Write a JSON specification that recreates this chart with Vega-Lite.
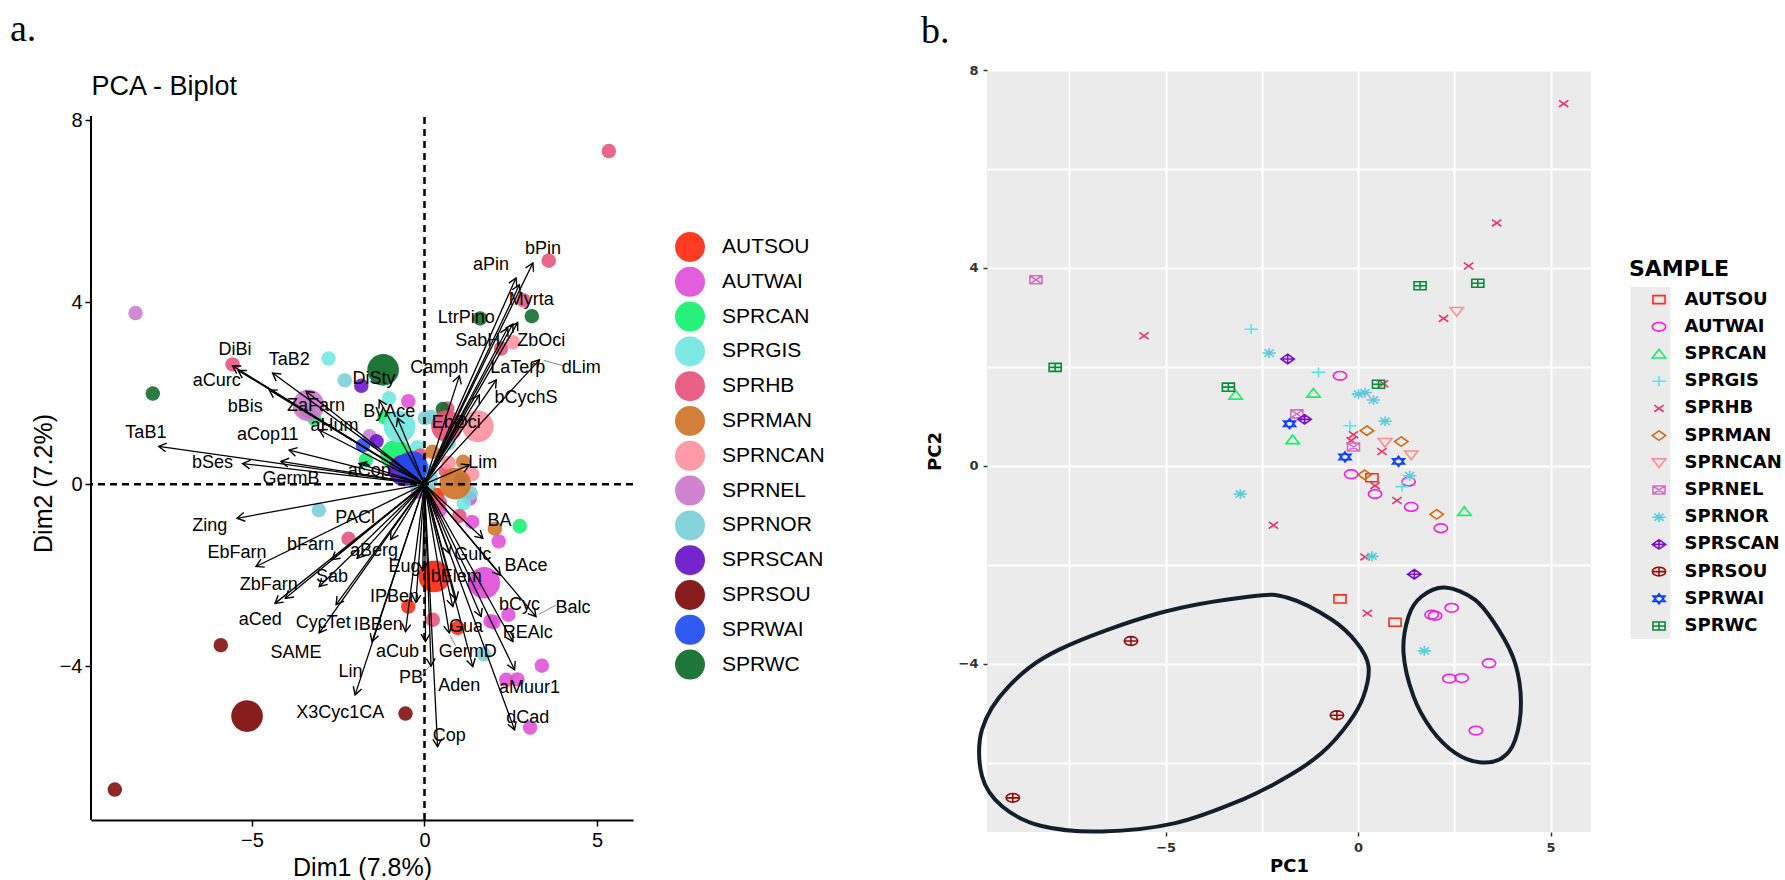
{
  "$schema": "https://vega.github.io/schema/vega-lite/v6.json",
  "background": "white",
  "padding": {"left": 10, "top": 11, "right": 5, "bottom": 5},
  "config": {"view": {"stroke": null}, "font": "Liberation Sans"},
  "datasets": {
    "ind": [
      {"g": "AUTSOU", "x": 0.36, "y": -0.24}, {"g": "AUTSOU", "x": -0.47, "y": -2.69}, {"g": "AUTSOU", "x": 0.96, "y": -3.16},
      {"g": "AUTWAI", "x": -0.47, "y": 1.82}, {"g": "AUTWAI", "x": -0.18, "y": -0.17}, {"g": "AUTWAI", "x": 1.31, "y": -0.32},
      {"g": "AUTWAI", "x": 0.44, "y": -0.57}, {"g": "AUTWAI", "x": 1.38, "y": -0.83}, {"g": "AUTWAI", "x": 2.15, "y": -1.26},
      {"g": "AUTWAI", "x": 1.91, "y": -3.01}, {"g": "AUTWAI", "x": 2.0, "y": -3.03}, {"g": "AUTWAI", "x": 2.43, "y": -2.87},
      {"g": "AUTWAI", "x": 3.4, "y": -3.99}, {"g": "AUTWAI", "x": 2.37, "y": -4.3}, {"g": "AUTWAI", "x": 2.69, "y": -4.29},
      {"g": "AUTWAI", "x": 3.06, "y": -5.35},
      {"g": "SPRCAN", "x": -3.18, "y": 1.43}, {"g": "SPRCAN", "x": -1.16, "y": 1.47}, {"g": "SPRCAN", "x": -1.7, "y": 0.53}, {"g": "SPRCAN", "x": 2.76, "y": -0.92},
      {"g": "SPRGIS", "x": -2.78, "y": 2.76}, {"g": "SPRGIS", "x": -1.03, "y": 1.89}, {"g": "SPRGIS", "x": -0.21, "y": 0.81}, {"g": "SPRGIS", "x": 1.14, "y": -0.42},
      {"g": "SPRHB", "x": 5.34, "y": 7.32}, {"g": "SPRHB", "x": 3.6, "y": 4.91}, {"g": "SPRHB", "x": 2.87, "y": 4.04},
      {"g": "SPRHB", "x": 2.22, "y": 2.98}, {"g": "SPRHB", "x": -5.56, "y": 2.63}, {"g": "SPRHB", "x": 0.66, "y": 1.66},
      {"g": "SPRHB", "x": -0.12, "y": 0.63}, {"g": "SPRHB", "x": -0.18, "y": 0.51}, {"g": "SPRHB", "x": 0.62, "y": 0.29},
      {"g": "SPRHB", "x": 0.44, "y": -0.4}, {"g": "SPRHB", "x": 1.01, "y": -0.7}, {"g": "SPRHB", "x": -2.2, "y": -1.2},
      {"g": "SPRHB", "x": 0.18, "y": -1.84}, {"g": "SPRHB", "x": 0.24, "y": -2.98},
      {"g": "SPRMAN", "x": 0.23, "y": 0.71}, {"g": "SPRMAN", "x": 1.12, "y": 0.49}, {"g": "SPRMAN", "x": 0.17, "y": -0.18}, {"g": "SPRMAN", "x": 2.04, "y": -0.98},
      {"g": "SPRNCAN", "x": 2.56, "y": 3.12}, {"g": "SPRNCAN", "x": 0.7, "y": 0.47}, {"g": "SPRNCAN", "x": 1.38, "y": 0.22},
      {"g": "SPRNEL", "x": -8.37, "y": 3.76}, {"g": "SPRNEL", "x": -1.59, "y": 1.05}, {"g": "SPRNEL", "x": -0.12, "y": 0.38},
      {"g": "SPRNOR", "x": -2.31, "y": 2.28}, {"g": "SPRNOR", "x": 0.01, "y": 1.45}, {"g": "SPRNOR", "x": 0.18, "y": 1.48},
      {"g": "SPRNOR", "x": 0.4, "y": 1.33}, {"g": "SPRNOR", "x": 0.7, "y": 0.9}, {"g": "SPRNOR", "x": 1.34, "y": -0.2},
      {"g": "SPRNOR", "x": -3.06, "y": -0.57}, {"g": "SPRNOR", "x": 0.36, "y": -1.83}, {"g": "SPRNOR", "x": 1.72, "y": -3.74},
      {"g": "SPRSCAN", "x": -1.83, "y": 2.16}, {"g": "SPRSCAN", "x": -1.39, "y": 0.94}, {"g": "SPRSCAN", "x": 1.46, "y": -2.19},
      {"g": "SPRSOU", "x": -5.9, "y": -3.54}, {"g": "SPRSOU", "x": -8.97, "y": -6.71}, {"g": "SPRSOU", "x": -0.55, "y": -5.04},
      {"g": "SPRWAI", "x": -1.78, "y": 0.85}, {"g": "SPRWAI", "x": -0.34, "y": 0.18}, {"g": "SPRWAI", "x": 1.05, "y": 0.09},
      {"g": "SPRWC", "x": -7.87, "y": 1.99}, {"g": "SPRWC", "x": -3.37, "y": 1.59}, {"g": "SPRWC", "x": 0.53, "y": 1.65},
      {"g": "SPRWC", "x": 1.61, "y": 3.64}, {"g": "SPRWC", "x": 3.11, "y": 3.69}
    ],
    "vars": [
      {"v": "bPin", "x": 3.14, "y": 4.86, "lx": 3.43, "ly": 5.17},
      {"v": "aPin", "x": 2.65, "y": 4.53, "lx": 1.93, "ly": 4.82},
      {"v": "Myrta", "x": 2.75, "y": 4.38, "lx": 3.09, "ly": 4.05},
      {"v": "LtrPino", "x": 2.41, "y": 3.43, "lx": 1.21, "ly": 3.65},
      {"v": "SabH", "x": 2.56, "y": 3.52, "lx": 1.54, "ly": 3.14},
      {"v": "ZbOci", "x": 2.7, "y": 3.55, "lx": 3.38, "ly": 3.14},
      {"v": "dLim", "x": 3.33, "y": 2.73, "lx": 4.54, "ly": 2.55},
      {"v": "LaTerp", "x": 2.08, "y": 2.29, "lx": 2.7, "ly": 2.55},
      {"v": "Camph", "x": 1.01, "y": 2.38, "lx": 0.43, "ly": 2.55},
      {"v": "bCychS", "x": 1.59, "y": 1.96, "lx": 2.94, "ly": 1.89},
      {"v": "EbOci", "x": 1.11, "y": 1.49, "lx": 0.92, "ly": 1.34},
      {"v": "Lim", "x": 1.3, "y": 0.42, "lx": 1.69, "ly": 0.46},
      {"v": "DiBi", "x": -5.56, "y": 2.6, "lx": -5.49, "ly": 2.95},
      {"v": "aCurc", "x": -5.4, "y": 2.5, "lx": -6.02, "ly": 2.26},
      {"v": "TaB2", "x": -4.4, "y": 2.44, "lx": -3.92, "ly": 2.73},
      {"v": "bBis", "x": -4.5, "y": 2.07, "lx": -5.19, "ly": 1.69},
      {"v": "ZaFarn", "x": -3.43, "y": 2.04, "lx": -3.14, "ly": 1.72},
      {"v": "aHum", "x": -3.05, "y": 1.19, "lx": -2.61, "ly": 1.27},
      {"v": "TaB1", "x": -7.7, "y": 0.83, "lx": -8.07, "ly": 1.12},
      {"v": "aCop11", "x": -3.92, "y": 0.75, "lx": -4.54, "ly": 1.08},
      {"v": "bSes", "x": -5.27, "y": 0.45, "lx": -6.14, "ly": 0.46},
      {"v": "GermB", "x": -4.16, "y": 0.5, "lx": -3.87, "ly": 0.11},
      {"v": "aCop", "x": -1.9, "y": 0.45, "lx": -1.6, "ly": 0.28},
      {"v": "DiSty", "x": -1.31, "y": 1.85, "lx": -1.46, "ly": 2.31},
      {"v": "ByAce", "x": -0.78, "y": 1.45, "lx": -1.02, "ly": 1.58},
      {"v": "BA", "x": 1.69, "y": -1.19, "lx": 2.17, "ly": -0.82},
      {"v": "BAce", "x": 2.2, "y": -2.0, "lx": 2.94, "ly": -1.79},
      {"v": "Balc", "x": 3.23, "y": -2.91, "lx": 4.3, "ly": -2.73},
      {"v": "bCyc", "x": 1.64, "y": -2.91, "lx": 2.75, "ly": -2.65},
      {"v": "REAlc", "x": 2.56, "y": -3.46, "lx": 2.99, "ly": -3.27},
      {"v": "aMuur1", "x": 2.61, "y": -4.08, "lx": 3.04, "ly": -4.48},
      {"v": "dCad", "x": 2.61, "y": -5.4, "lx": 2.99, "ly": -5.14},
      {"v": "Cop", "x": 0.38, "y": -5.77, "lx": 0.72, "ly": -5.53},
      {"v": "Aden", "x": 1.4, "y": -4.01, "lx": 1.01, "ly": -4.43},
      {"v": "GermD", "x": 0.72, "y": -3.27, "lx": 1.25, "ly": -3.68},
      {"v": "Gua", "x": 0.92, "y": -2.54, "lx": 1.2, "ly": -3.13},
      {"v": "PB", "x": 0.19, "y": -4.0, "lx": -0.39, "ly": -4.26},
      {"v": "aCub", "x": 0.03, "y": -3.46, "lx": -0.78, "ly": -3.68},
      {"v": "IPBen", "x": -0.25, "y": -2.6, "lx": -0.87, "ly": -2.47},
      {"v": "IBBen", "x": -0.55, "y": -3.24, "lx": -1.34, "ly": -3.09},
      {"v": "Eug", "x": -0.05, "y": -1.9, "lx": -0.58, "ly": -1.81},
      {"v": "Gulc", "x": 0.72, "y": -1.52, "lx": 1.4, "ly": -1.55},
      {"v": "bElem", "x": 0.82, "y": -2.69, "lx": 0.92, "ly": -2.03},
      {"v": "Lin", "x": -1.52, "y": -3.46, "lx": -2.14, "ly": -4.12},
      {"v": "X3Cyc1CA", "x": -2.01, "y": -4.63, "lx": -2.44, "ly": -5.03},
      {"v": "SAME", "x": -3.05, "y": -3.27, "lx": -3.72, "ly": -3.7},
      {"v": "CycTet", "x": -2.56, "y": -2.65, "lx": -2.93, "ly": -3.05},
      {"v": "aCed", "x": -4.33, "y": -2.62, "lx": -4.76, "ly": -2.98},
      {"v": "ZbFarn", "x": -4.03, "y": -2.51, "lx": -4.51, "ly": -2.21},
      {"v": "Sab", "x": -3.05, "y": -2.25, "lx": -2.68, "ly": -2.04},
      {"v": "EbFarn", "x": -4.88, "y": -1.81, "lx": -5.43, "ly": -1.52},
      {"v": "bFarn", "x": -2.68, "y": -1.66, "lx": -3.3, "ly": -1.33},
      {"v": "aBerg", "x": -1.95, "y": -1.63, "lx": -1.46, "ly": -1.48},
      {"v": "PACl", "x": -0.98, "y": -1.22, "lx": -2.01, "ly": -0.75},
      {"v": "Zing", "x": -5.43, "y": -0.75, "lx": -6.22, "ly": -0.93}
    ],
    "leaders": [
      {"v": "dLim", "x": 3.45, "y": 2.72, "x2": 4.02, "y2": 2.6},
      {"v": "Balc", "x": 3.32, "y": -2.86, "x2": 3.8, "y2": -2.66},
      {"v": "PB", "x": 0.17, "y": -3.98, "x2": -0.1, "y2": -4.22},
      {"v": "GermD", "x": 0.74, "y": -3.32, "x2": 0.9, "y2": -3.55}
    ],
    "ell": [
      {"e": 1, "i": 0, "x": -2.8, "y": -2.64}, {"e": 1, "i": 1, "x": -1.81, "y": -2.67}, {"e": 1, "i": 2, "x": -0.68, "y": -3.11},
      {"e": 1, "i": 3, "x": -0.03, "y": -3.58}, {"e": 1, "i": 4, "x": 0.27, "y": -4.05}, {"e": 1, "i": 5, "x": 0.14, "y": -4.66},
      {"e": 1, "i": 6, "x": -0.25, "y": -5.2}, {"e": 1, "i": 7, "x": -0.94, "y": -5.8}, {"e": 1, "i": 8, "x": -1.81, "y": -6.27},
      {"e": 1, "i": 9, "x": -3.02, "y": -6.75}, {"e": 1, "i": 10, "x": -4.75, "y": -7.22}, {"e": 1, "i": 11, "x": -6.66, "y": -7.39},
      {"e": 1, "i": 12, "x": -8.22, "y": -7.28}, {"e": 1, "i": 13, "x": -9.25, "y": -6.88}, {"e": 1, "i": 14, "x": -9.77, "y": -6.27},
      {"e": 1, "i": 15, "x": -9.77, "y": -5.33}, {"e": 1, "i": 16, "x": -9.08, "y": -4.46}, {"e": 1, "i": 17, "x": -7.78, "y": -3.72},
      {"e": 1, "i": 18, "x": -5.18, "y": -2.98},
      {"e": 2, "i": 0, "x": 2.26, "y": -2.46}, {"e": 2, "i": 1, "x": 3.04, "y": -2.71}, {"e": 2, "i": 2, "x": 3.65, "y": -3.31},
      {"e": 2, "i": 3, "x": 4.08, "y": -3.99}, {"e": 2, "i": 4, "x": 4.23, "y": -4.79}, {"e": 2, "i": 5, "x": 4.08, "y": -5.54},
      {"e": 2, "i": 6, "x": 3.73, "y": -5.91}, {"e": 2, "i": 7, "x": 3.15, "y": -5.99}, {"e": 2, "i": 8, "x": 2.52, "y": -5.8},
      {"e": 2, "i": 9, "x": 1.91, "y": -5.33}, {"e": 2, "i": 10, "x": 1.44, "y": -4.66}, {"e": 2, "i": 11, "x": 1.18, "y": -3.78},
      {"e": 2, "i": 12, "x": 1.31, "y": -3.04}, {"e": 2, "i": 13, "x": 1.65, "y": -2.64}
    ]
  },
  "spacing": 96,
  "resolve": {
    "scale": {"color": "independent", "shape": "independent", "fill": "independent"},
    "legend": {"color": "independent", "shape": "independent", "fill": "independent"}
  },
  "hconcat": [
    {
      "width": 542,
      "height": 750,
      "title": {"text": "a.", "font": "Liberation Serif", "fontSize": 38, "fontWeight": "normal", "color": "black", "anchor": "start", "frame": "group", "dx": -81, "offset": 21},
      "resolve": {"axis": {"x": "independent"}},
      "layer": [
        {
          "data": {"name": "ind"},
          "mark": {"type": "circle", "size": 210, "opacity": 0.88},
          "encoding": {
            "x": {"field": "x", "type": "quantitative",
              "scale": {"domain": [-9.66, 6.04], "nice": false, "zero": false},
              "axis": {"orient": "bottom", "values": [-5, 0, 5], "title": "Dim1 (7.8%)", "titleFontSize": 25, "titleFontWeight": "normal", "titleColor": "black", "titlePadding": 5, "labelFontSize": 20, "labelColor": "black", "labelPadding": 4, "tickSize": 6, "tickColor": "black", "tickWidth": 1.5, "domainColor": "black", "domainWidth": 2, "grid": false, "labelFlush": false}},
            "y": {"field": "y", "type": "quantitative",
              "scale": {"domain": [-7.38, 9.1], "nice": false, "zero": false},
              "axis": {"values": [-4, 0, 4, 8], "title": "Dim2 (7.2%)", "titleY": 413, "titleFontSize": 25, "titleFontWeight": "normal", "titleColor": "black", "titlePadding": 3, "labelFontSize": 20, "labelColor": "black", "labelPadding": 3, "tickSize": 6, "tickColor": "black", "tickWidth": 1.5, "domain": false, "grid": false}},
            "color": {"field": "g", "type": "nominal",
              "scale": {"domain": ["AUTSOU", "AUTWAI", "SPRCAN", "SPRGIS", "SPRHB", "SPRMAN", "SPRNCAN", "SPRNEL", "SPRNOR", "SPRSCAN", "SPRSOU", "SPRWAI", "SPRWC"],
                "range": ["#FF2A10", "#E04FD8", "#12F070", "#72E6E2", "#E6527C", "#CF7428", "#FF91A2", "#CC7ACC", "#7ACFD8", "#6A12C8", "#7E0A0A", "#1E4CF0", "#0C6A28"]},
              "legend": {"orient": "none", "legendX": 583, "legendY": 161, "title": null, "symbolType": "circle", "symbolSize": 900, "symbolOpacity": 1, "labelFontSize": 21, "labelFont": "Liberation Sans", "labelColor": "black", "rowPadding": 3.8, "labelOffset": 16, "padding": 0}}
          }
        },
        {
          "data": {"name": "ind"},
          "mark": {"type": "circle", "size": 1000, "opacity": 0.92},
          "encoding": {
            "x": {"aggregate": "mean", "field": "x", "type": "quantitative", "scale": {"domain": [-9.66, 6.04], "nice": false, "zero": false}, "axis": null},
            "y": {"aggregate": "mean", "field": "y", "type": "quantitative", "scale": {"domain": [-7.38, 9.1], "nice": false, "zero": false}},
            "color": {"field": "g", "type": "nominal"}
          }
        },
        {
          "data": {"values": [{}]},
          "mark": {"type": "rule", "strokeWidth": 2, "color": "black"},
          "encoding": {
            "x": {"datum": -9.66, "type": "quantitative", "scale": {"domain": [-9.66, 6.04], "nice": false, "zero": false}, "axis": null},
            "y": {"datum": -7.38, "type": "quantitative", "scale": {"domain": [-7.38, 9.1], "nice": false, "zero": false}},
            "y2": {"datum": 8.09}
          }
        },
        {
          "data": {"values": [{}]},
          "mark": {"type": "rule", "strokeDash": [7, 5], "strokeWidth": 2.5, "color": "black"},
          "encoding": {
            "x": {"datum": 0, "type": "quantitative", "scale": {"domain": [-9.66, 6.04], "nice": false, "zero": false},
              "axis": {"orient": "top", "title": "PCA - Biplot", "titleFontSize": 27, "titleFontWeight": "normal", "titleColor": "black", "titleAnchor": "start", "titleAlign": "left", "titlePadding": -30, "domain": false, "ticks": false, "labels": false, "grid": false}},
            "y": {"datum": -7.38, "type": "quantitative", "scale": {"domain": [-7.38, 9.1], "nice": false, "zero": false}},
            "y2": {"datum": 8.09}
          }
        },
        {
          "data": {"values": [{}]},
          "mark": {"type": "rule", "strokeDash": [7, 5], "strokeWidth": 2.5, "color": "black"},
          "encoding": {
            "y": {"datum": 0, "type": "quantitative", "scale": {"domain": [-7.38, 9.1], "nice": false, "zero": false}}
          }
        },
        {
          "data": {"name": "vars"},
          "mark": {"type": "rule", "color": "black", "strokeWidth": 1.3},
          "encoding": {
            "x": {"field": "x", "type": "quantitative", "scale": {"domain": [-9.66, 6.04], "nice": false, "zero": false}, "axis": null},
            "y": {"field": "y", "type": "quantitative", "scale": {"domain": [-7.38, 9.1], "nice": false, "zero": false}},
            "x2": {"datum": 0},
            "y2": {"datum": 0}
          }
        },
        {
          "data": {"name": "leaders"},
          "mark": {"type": "rule", "color": "#888888", "strokeWidth": 1},
          "encoding": {
            "x": {"field": "x", "type": "quantitative", "scale": {"domain": [-9.66, 6.04], "nice": false, "zero": false}, "axis": null},
            "y": {"field": "y", "type": "quantitative"},
            "x2": {"field": "x2"},
            "y2": {"field": "y2"}
          }
        },
        {
          "data": {"name": "vars"},
          "transform": [{"calculate": "atan2(datum.x * 34.5, datum.y * 45.5) * 180 / PI", "as": "ang"}],
          "mark": {"type": "point", "shape": "M-0.55,0.95L0,0L0.55,0.95", "filled": false, "stroke": "black", "strokeWidth": 1.4, "size": 256, "opacity": 1},
          "encoding": {
            "x": {"field": "x", "type": "quantitative", "scale": {"domain": [-9.66, 6.04], "nice": false, "zero": false}, "axis": null},
            "y": {"field": "y", "type": "quantitative"},
            "angle": {"field": "ang", "type": "quantitative", "scale": null}
          }
        },
        {
          "data": {"name": "vars"},
          "mark": {"type": "text", "font": "Liberation Sans", "fontSize": 18, "color": "black"},
          "encoding": {
            "x": {"field": "lx", "type": "quantitative", "scale": {"domain": [-9.66, 6.04], "nice": false, "zero": false}, "axis": null},
            "y": {"field": "ly", "type": "quantitative"},
            "text": {"field": "v"}
          }
        }
      ]
    },
    {
      "width": 604,
      "height": 762,
      "view": {"fill": "#EBEBEB", "stroke": null},
      "title": {"text": "b.", "font": "Liberation Serif", "fontSize": 38, "fontWeight": "normal", "color": "black", "anchor": "start", "frame": "group", "dx": -66, "offset": 13},
      "layer": [
        {
          "data": {"values": [{"k": "bg"}]},
          "mark": {"type": "point", "opacity": 0},
          "encoding": {
            "fill": {"field": "k", "type": "nominal", "scale": {"range": ["#EBEBEB"]},
              "legend": {"orient": "none", "legendX": 487.4, "legendY": 216.9, "title": null, "symbolType": "M-0.1136,-1H0.1136V1H-0.1136Z", "symbolSize": 123904, "symbolOpacity": 1, "symbolStrokeWidth": 0, "symbolFillColor": "#EBEBEB", "labelExpr": "''", "labelFontSize": 1, "padding": 0, "zindex": 0}}
          }
        },
        {
          "data": {"name": "ind"},
          "mark": {"type": "point", "filled": false, "strokeWidth": 1.6, "size": 180, "opacity": 1},
          "encoding": {
            "x": {"field": "x", "type": "quantitative",
              "scale": {"domain": [-9.64, 6.05], "nice": false, "zero": false},
              "axis": {"values": [-7.5, -5, -2.5, 0, 2.5, 5], "labelExpr": "datum.value % 5 === 0 ? datum.label : ''", "title": "PC1", "titleFont": "DejaVu Sans", "titleFontSize": 18, "titleFontWeight": "bold", "titleColor": "black", "titlePadding": 3, "labelFont": "DejaVu Sans", "labelFontWeight": "bold", "labelFontSize": 13, "labelColor": "#333333", "labelPadding": 5.7, "domain": false, "tickSize": 4, "tickColor": "#333333", "tickWidth": 1.5, "tickOpacity": {"condition": {"test": "datum.value % 5 === 0", "value": 1}, "value": 0}, "grid": true, "gridColor": "white", "gridWidth": 1.8, "gridOpacity": 1}},
            "y": {"field": "y", "type": "quantitative",
              "scale": {"domain": [-7.4, 8.0], "nice": false, "zero": false},
              "axis": {"values": [-6, -4, -2, 0, 2, 4, 6, 8], "labelExpr": "abs(datum.value) % 4 === 0 ? datum.label : ''", "title": "PC2", "titleFont": "DejaVu Sans", "titleFontSize": 18, "titleFontWeight": "bold", "titleColor": "black", "titlePadding": 14, "labelFont": "DejaVu Sans", "labelFontWeight": "bold", "labelFontSize": 13, "labelColor": "#333333", "labelPadding": 5, "domain": false, "tickSize": 4, "tickColor": "#333333", "tickWidth": 1.5, "tickOpacity": {"condition": {"test": "abs(datum.value) % 4 === 0", "value": 1}, "value": 0}, "grid": true, "gridColor": "white", "gridWidth": 1.8, "gridOpacity": 1}},
            "color": {"field": "g", "type": "nominal",
              "scale": {"domain": ["AUTSOU", "AUTWAI", "SPRCAN", "SPRGIS", "SPRHB", "SPRMAN", "SPRNCAN", "SPRNEL", "SPRNOR", "SPRSCAN", "SPRSOU", "SPRWAI", "SPRWC"],
                "range": ["#FF2A1A", "#F020E0", "#1AEE6A", "#55E6E6", "#EE3366", "#D06A10", "#FF8C8C", "#D070C8", "#5CCCDC", "#7A10C8", "#9A0A0A", "#1040FF", "#088A3A"]},
              "legend": {"orient": "none", "legendX": 642, "legendY": 188.6, "zindex": 1, "title": "SAMPLE", "titleFont": "DejaVu Sans", "titleFontSize": 22, "titleFontWeight": "bold", "titleColor": "black", "titlePadding": 10, "labelFont": "DejaVu Sans", "labelFontWeight": "bold", "labelFontSize": 18, "labelColor": "black", "symbolSize": 180, "symbolStrokeWidth": 1.6, "symbolOffset": 21, "labelOffset": 16.5, "rowPadding": 9.2, "padding": 0}},
            "shape": {"field": "g", "type": "nominal",
              "scale": {"domain": ["AUTSOU", "AUTWAI", "SPRCAN", "SPRGIS", "SPRHB", "SPRMAN", "SPRNCAN", "SPRNEL", "SPRNOR", "SPRSCAN", "SPRSOU", "SPRWAI", "SPRWC"],
                "range": [
                  "M-0.9,-0.6H0.9V0.6H-0.9Z",
                  "M1,0A1,0.65,0,1,1,-1,0A1,0.65,0,1,1,1,0Z",
                  "M0,-0.7L1,0.6H-1Z",
                  "M-1,0H1M0,-0.75V0.75",
                  "M-0.7,-0.5L0.7,0.5M-0.7,0.5L0.7,-0.5",
                  "M0,-0.7L1,0L0,0.7L-1,0Z",
                  "M0,0.7L1,-0.6H-1Z",
                  "M-0.9,-0.6H0.9V0.6H-0.9ZM-0.9,-0.6L0.9,0.6M-0.9,0.6L0.9,-0.6",
                  "M-1,0H1M0,-0.75V0.75M-0.7,-0.53L0.7,0.53M-0.7,0.53L0.7,-0.53",
                  "M0,-0.7L1,0L0,0.7L-1,0ZM-1,0H1M0,-0.7V0.7",
                  "M1,0A1,0.65,0,1,1,-1,0A1,0.65,0,1,1,1,0ZM-1,0H1M0,-0.65V0.65",
                  "M0,-0.75L0.9,0.4H-0.9ZM0,0.75L0.9,-0.4H-0.9Z",
                  "M-0.9,-0.6H0.9V0.6H-0.9ZM-0.9,0H0.9M0,-0.6V0.6"
                ]},
              "legend": {"orient": "none", "legendX": 642, "legendY": 188.6, "zindex": 1, "title": "SAMPLE", "titleFont": "DejaVu Sans", "titleFontSize": 22, "titleFontWeight": "bold", "titleColor": "black", "titlePadding": 10, "labelFont": "DejaVu Sans", "labelFontWeight": "bold", "labelFontSize": 18, "labelColor": "black", "symbolSize": 180, "symbolStrokeWidth": 1.6, "symbolOffset": 21, "labelOffset": 16.5, "rowPadding": 9.2, "padding": 0}}
          }
        },
        {
          "data": {"name": "ell"},
          "mark": {"type": "line", "interpolate": "cardinal-closed", "color": "#13202C", "strokeWidth": 4},
          "encoding": {
            "x": {"field": "x", "type": "quantitative", "scale": {"domain": [-9.64, 6.05], "nice": false, "zero": false}},
            "y": {"field": "y", "type": "quantitative", "scale": {"domain": [-7.4, 8.0], "nice": false, "zero": false}},
            "detail": {"field": "e", "type": "nominal"},
            "order": {"field": "i", "type": "quantitative"}
          }
        }
      ]
    }
  ]
}
